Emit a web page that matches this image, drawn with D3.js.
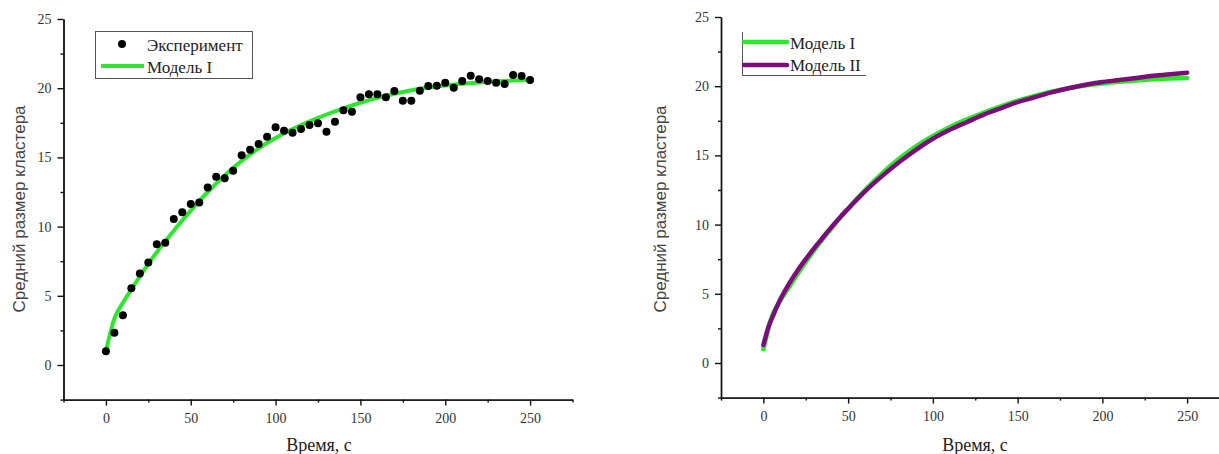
<!DOCTYPE html>
<html>
<head>
<meta charset="utf-8">
<script src="https://cdn.jsdelivr.net/npm/d3@7"></script>
<style>
	body { margin: 0; background: #fff; }
	.axis text { font-family: "Liberation Serif", serif; font-size: 14px; fill: #333; }
	.axis path, .axis line { stroke: #111; stroke-width: 1.4; }
</style>
</head>
<body>
<div id="chart"></div>
<script>
// experiment, every 5 s
var timeExp = [0, 5, 10, 15, 20, 25, 30, 35, 40, 45, 50, 55, 60, 65, 70, 75, 80, 85, 90, 95,
	100, 105, 110, 115, 120, 125, 130, 135, 140, 145, 150, 155, 160, 165, 170, 175, 180, 185, 190, 195,
	200, 205, 210, 215, 220, 225, 230, 235, 240, 245, 250];
var sizeExp = [1.0, 2.33, 3.6, 5.54, 6.62, 7.4, 8.72, 8.84, 10.55, 11.03, 11.63, 11.75, 12.82, 13.6, 13.49, 14.04, 15.15, 15.56, 15.97, 16.5,
	17.17, 16.93, 16.79, 17.05, 17.34, 17.46, 16.86, 17.58, 18.4, 18.3, 19.34, 19.56, 19.56, 19.34, 19.8, 19.1, 19.1, 19.82, 20.16, 20.17,
	20.4, 20.04, 20.52, 20.9, 20.64, 20.52, 20.4, 20.3, 20.95, 20.88, 20.6];

// model I
var timeModel1 = [0, 5, 10, 15, 20, 25, 30, 35, 40, 45, 50, 55, 60, 70, 80, 90, 100, 110, 120, 130,
	140, 150, 160, 170, 180, 190, 200, 210, 220, 230, 240, 250];
var sizeModel1 = [1.0, 3.35, 4.5, 5.45, 6.4, 7.3, 8.15, 8.95, 9.7, 10.45, 11.15, 11.85, 12.5, 13.7, 14.75, 15.65, 16.4, 17.05, 17.6, 18.1,
	18.55, 18.95, 19.3, 19.6, 19.85, 20.05, 20.2, 20.32, 20.42, 20.5, 20.55, 20.6];

// model II
var timeModel2 = [0, 3, 6, 10, 15, 20, 25, 30, 35, 40, 45, 50, 60, 70, 80, 90, 100, 110, 120, 130,
	140, 150, 160, 170, 180, 190, 200, 210, 220, 230, 240, 250];
var sizeModel2 = [1.3, 2.6, 3.5, 4.6, 5.7, 6.65, 7.5, 8.3, 9.05, 9.8, 10.5, 11.15, 12.4, 13.5, 14.5, 15.4, 16.2, 16.85, 17.4, 17.95,
	18.4, 18.85, 19.2, 19.55, 19.85, 20.1, 20.3, 20.45, 20.6, 20.75, 20.87, 20.98];

var xTicks = [0, 50, 100, 150, 200, 250];
var xMinorTicks = [-25, 25, 75, 125, 175, 225, 275];
var yTicks = [0, 5, 10, 15, 20, 25];
var yMinorTicks = [-2.5, 2.5, 7.5, 12.5, 17.5, 22.5];

var xTitle = "Время, с";
var yTitle = "Средний размер кластера";
var legendLeft = ["Эксперимент", "Модель I"];
var legendRight = ["Модель I", "Модель II"];

var green = "#2fe62f",
	purple = "#7a0d7a";

var svgContainer = d3.select("#chart")
	.append("svg")
	.attr("width", 1219)
	.attr("height", 454);

function zip(xs, ys) {
	return xs.map((x, i) => ({x: x, y: ys[i]}));
}

function drawAxes(xScale, yScale) {
	var y0 = yScale.range()[0],
		x0 = xScale.range()[0];

	svgContainer.append("g")
	.attr("class", "axis")
	.attr("transform", "translate(0," + y0 + ")")
	.call(d3.axisBottom(xScale).tickValues(xMinorTicks).tickSize(3).tickSizeOuter(0).tickFormat(""));

	svgContainer.append("g")
	.attr("class", "axis")
	.attr("transform", "translate(0," + y0 + ")")
	.call(d3.axisBottom(xScale).tickValues(xTicks).tickSize(6).tickSizeOuter(0).tickPadding(7));

	svgContainer.append("g")
	.attr("class", "axis")
	.attr("transform", "translate(" + x0 + ",0)")
	.call(d3.axisLeft(yScale).tickValues(yMinorTicks).tickSize(3).tickSizeOuter(0).tickFormat(""));

	svgContainer.append("g")
	.attr("class", "axis")
	.attr("transform", "translate(" + x0 + ",0)")
	.call(d3.axisLeft(yScale).tickValues(yTicks).tickSize(6).tickSizeOuter(0).tickPadding(6));
}

function drawTitles(cx, xBase, yx, yCenter) {
	svgContainer.append("text")
	.attr("x", cx)
	.attr("y", xBase)
	.attr("text-anchor", "middle")
	.style("font-family", "'Liberation Serif', serif")
	.style("font-size", "18px")
	.style("fill", "#222")
	.text(xTitle);

	svgContainer.append("text")
	.attr("transform", "translate(" + yx + "," + yCenter + ") rotate(-90)")
	.attr("text-anchor", "middle")
	.style("font-family", "'Liberation Sans', sans-serif")
	.style("font-size", "17px")
	.style("fill", "#444")
	.text(yTitle);
}

function drawCurve(points, xScale, yScale, color, width) {
	var line = d3.line()
	.x(d => xScale(d.x))
	.y(d => yScale(d.y))
	.curve(d3.curveMonotoneX);

	svgContainer.append("path")
	.datum(points)
	.attr("d", line)
	.attr("fill", "none")
	.attr("stroke", color)
	.attr("stroke-width", width)
	.attr("stroke-linecap", "round")
	.attr("stroke-linejoin", "round");
}

function legendText(x, y, txt) {
	svgContainer.append("text")
	.attr("x", x)
	.attr("y", y)
	.style("font-family", "'Liberation Serif', serif")
	.style("font-size", "17px")
	.style("fill", "#222")
	.text(txt);
}

////////////////////// LEFT CHART //////////////////////
var xLeft = d3.scaleLinear().domain([-25, 275]).range([63.5, 572.5]);
var yLeft = d3.scaleLinear().domain([-2.5, 25]).range([399.6, 19]);

drawAxes(xLeft, yLeft);
drawTitles(319, 451, 25, 209);

drawCurve(zip(timeModel1, sizeModel1), xLeft, yLeft, green, 4);

svgContainer.append("g")
	.selectAll("circle")
	.data(zip(timeExp, sizeExp))
	.join("circle")
	.attr("cx", d => xLeft(d.x))
	.attr("cy", d => yLeft(d.y))
	.attr("r", 4)
	.attr("fill", "#000");

// legend with full frame
svgContainer.append("rect")
	.attr("x", 95.5).attr("y", 31.5)
	.attr("width", 157).attr("height", 47)
	.attr("fill", "#fff")
	.attr("stroke", "#555")
	.attr("stroke-width", 1);
svgContainer.append("circle")
	.attr("cx", 122).attr("cy", 44).attr("r", 4).attr("fill", "#000");
svgContainer.append("line")
	.attr("x1", 101).attr("x2", 144).attr("y1", 66).attr("y2", 66)
	.attr("stroke", green).attr("stroke-width", 4);
legendText(147, 51, legendLeft[0]);
legendText(147, 72.5, legendLeft[1]);

////////////////////// RIGHT CHART //////////////////////
var xRight = d3.scaleLinear().domain([-25, 275]).range([721, 1229.5]);
var yRight = d3.scaleLinear().domain([-2.5, 25]).range([397.6, 17]);

drawAxes(xRight, yRight);
drawTitles(975, 451, 666, 209);

drawCurve(zip(timeModel1, sizeModel1), xRight, yRight, green, 4.5);
drawCurve(zip(timeModel2, sizeModel2), xRight, yRight, purple, 4.5);

// legend: only left and bottom edges
svgContainer.append("path")
	.attr("d", "M742.5,32 V75.5 H866")
	.attr("fill", "none")
	.attr("stroke", "#555")
	.attr("stroke-width", 1);
svgContainer.append("line")
	.attr("x1", 744).attr("x2", 787).attr("y1", 42).attr("y2", 42)
	.attr("stroke", green).attr("stroke-width", 4.5).attr("stroke-linecap", "round");
svgContainer.append("line")
	.attr("x1", 744).attr("x2", 787).attr("y1", 65).attr("y2", 65)
	.attr("stroke", purple).attr("stroke-width", 4.5).attr("stroke-linecap", "round");
legendText(790, 48.5, legendRight[0]);
legendText(790, 70.5, legendRight[1]);
</script>
</body>
</html>
